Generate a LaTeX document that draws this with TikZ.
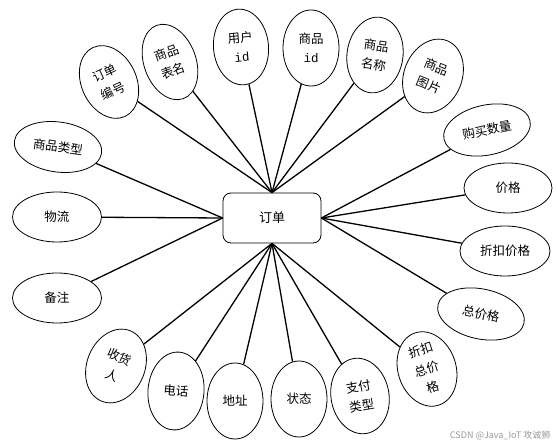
\documentclass[tikz,border=0pt]{standalone}
\usepackage{fontspec}
\setmainfont{Noto Sans CJK SC}
\newfontfamily\idfont{Liberation Mono}
\usetikzlibrary{shapes.geometric}
\tikzset{
  attr/.style={draw=black, line width=0.8pt, ellipse, inner sep=0pt, align=center,
    font=\fontsize{12.5}{19.5}\selectfont},
  tall/.style={attr, minimum width=55pt, minimum height=76pt},
  wide/.style={attr, minimum width=88pt, minimum height=50pt},
  entity/.style={draw=black, line width=0.8pt, rounded corners=8pt, minimum width=98pt,
    minimum height=50pt, inner sep=0pt, font=\fontsize{13}{16}\selectfont},
  link/.style={line width=1.3pt, black},
  wmark/.style={font=\fontsize{9}{11}\selectfont, text=black!40}
}
\begin{document}
\begin{tikzpicture}[x=1pt,y=-1pt]
\useasboundingbox (0,0) rectangle (558,446);
\node[entity] (box) at (272,218) {订单};

\node[tall, rotate=25] (a1) at (109,82) {订单\\编号};
\node[tall, rotate=20, minimum width=52pt, minimum height=78pt] (a2) at (170,62) {商品\\表名};
\node[tall, rotate=5] (a3) at (241,47) {用户\\{\idfont id}};
\node[tall, minimum width=56pt] (a4) at (311,48) {商品\\{\idfont id}};
\node[tall, rotate=-8, minimum width=56pt] (a5) at (375,55) {商品\\名称};
\node[tall, rotate=-22, minimum width=58pt] (a6) at (433,76) {商品\\图片};

\node[wide, rotate=12] (b1) at (487,130) {购买数量};
\node[wide] (b2) at (508,188) {价格};
\node[wide, minimum width=90pt] (b3) at (505,251) {折扣价格};
\node[wide, rotate=-12] (b4) at (481,314) {总价格};

\node[tall, rotate=18, minimum width=58pt] (c1) at (427,369) {折扣\\总价\\格};
\node[tall, rotate=10, minimum width=58pt] (c2) at (360,396) {支付\\类型};
\node[tall, minimum width=56pt] (c3) at (299,399) {状态};
\node[tall, minimum width=56pt] (c4) at (235,401) {地址};
\node[tall, rotate=-5, minimum width=56pt, minimum height=78pt] (c5) at (176,391) {电话};
\node[tall, rotate=-22, minimum width=58pt] (c6) at (116,366) {收货\\人};

\node[wide, minimum width=89pt] (d1) at (57,298) {备注};
\node[wide, minimum width=89pt] (d2) at (57,217) {物流};
\node[wide, rotate=-8] (d3) at (58,147) {商品类型};

\foreach \n in {a1,a2,a3,a4,a5,a6} \draw[link] (\n) -- (box.north);
\foreach \n in {b1,b2,b3,b4} \draw[link] (\n) -- (box.east);
\foreach \n in {c1,c2,c3,c4,c5,c6} \draw[link] (\n) -- (box.south);
\foreach \n in {d1,d2,d3} \draw[link] (\n) -- (box.west);

\node[wmark, anchor=east] (wm) at (554,435) {CSDN @Java\_IoT 攻诚狮};
\end{tikzpicture}
\end{document}
